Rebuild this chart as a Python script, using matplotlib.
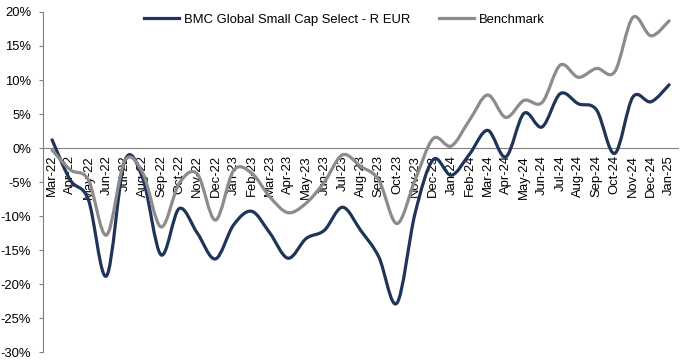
import numpy as np
import matplotlib
matplotlib.use('Agg')
import matplotlib.pyplot as plt
from matplotlib.path import Path
from matplotlib.patches import PathPatch
from matplotlib.lines import Line2D
from matplotlib.ticker import FuncFormatter, MultipleLocator

plt.rcParams['font.family'] = ['Liberation Sans', 'DejaVu Sans']

# 데이터 (그림에서 읽은 값, %)
months = ['Mar-22', 'Apr-22', 'May-22', 'Jun-22', 'Jul-22', 'Aug-22', 'Sep-22', 'Oct-22',
          'Nov-22', 'Dec-22', 'Jan-23', 'Feb-23', 'Mar-23', 'Apr-23', 'May-23', 'Jun-23',
          'Jul-23', 'Aug-23', 'Sep-23', 'Oct-23', 'Nov-23', 'Dec-23', 'Jan-24', 'Feb-24',
          'Mar-24', 'Apr-24', 'May-24', 'Jun-24', 'Jul-24', 'Aug-24', 'Sep-24', 'Oct-24',
          'Nov-24', 'Dec-24', 'Jan-25']
fund = [1.2, -4.7, -7.6, -18.8, -1.9, -4.5, -15.7, -8.9, -12.5, -16.3, -11.3, -9.3,
        -12.5, -16.2, -13.3, -12.1, -8.7, -12.1, -16.0, -22.8, -9.6, -1.7, -4.0, -0.9,
        2.6, -1.3, 5.1, 3.1, 8.0, 6.5, 5.6, -0.8, 7.5, 6.8, 9.3]
bench = [-0.3, -3.2, -4.7, -12.8, -1.9, -3.7, -11.6, -5.2, -3.8, -10.6, -3.3, -3.7,
         -7.2, -9.5, -8.1, -5.0, -1.0, -2.7, -4.7, -11.1, -4.7, 1.4, 0.3, 4.1,
         7.8, 4.5, 7.0, 6.7, 12.2, 10.4, 11.7, 11.2, 19.2, 16.5, 18.7]

fund_name = 'BMC Global Small Cap Select - R EUR'
bench_name = 'Benchmark'
navy = '#1f3459'
grey = '#8c8c8c'


# 엑셀식 부드러운 선 (베지어 곡선)
def smooth_path(x, y):
    pts = np.column_stack([x, y])
    verts = [pts[0]]
    codes = [Path.MOVETO]
    n = len(pts)
    for i in range(n - 1):
        p0 = pts[i - 1] if i > 0 else pts[i]
        p1 = pts[i]
        p2 = pts[i + 1]
        p3 = pts[i + 2] if i + 2 < n else pts[i + 1]
        c1 = p1 + (p2 - p0) / 6
        c2 = p2 - (p3 - p1) / 6
        verts += [c1, c2, p2]
        codes += [Path.CURVE4] * 3
    return Path(verts, codes)


fig = plt.figure(figsize=(6.83, 3.63), dpi=100)
ax = fig.add_axes([0.063, 0.030, 0.93, 0.937])

# 축 모양 (spine 위치를 먼저 지정해야 눈금 설정이 유지됨)
ax.spines['top'].set_visible(False)
ax.spines['right'].set_visible(False)
ax.spines['left'].set_color('#808080')
ax.spines['bottom'].set_position(('data', 0))
ax.spines['bottom'].set_color('#808080')
ax.set_axisbelow(True)

x = np.arange(len(months))
for vals, col in [(fund, navy), (bench, grey)]:
    ax.add_patch(PathPatch(smooth_path(x, vals), facecolor='none', edgecolor=col,
                           lw=2.3, capstyle='round', joinstyle='round', zorder=3))

ax.set_xlim(-0.5, len(months) - 0.5)
ax.set_ylim(-30, 20)
ax.yaxis.set_major_locator(MultipleLocator(5))
ax.yaxis.set_major_formatter(FuncFormatter(lambda v, p: '%d%%' % v))

ax.set_xticks(x)
ax.set_xticklabels(months)
ax.tick_params(axis='x', length=0, pad=5, labelsize=9.4, labelrotation=90)
ax.tick_params(axis='y', length=3, width=0.8, color='#808080', pad=5.5, labelsize=9.4)

handles = [Line2D([], [], color=navy, lw=2.3), Line2D([], [], color=grey, lw=2.3)]
ax.legend(handles, [fund_name, bench_name], loc='upper center', ncol=2, frameon=False,
          fontsize=9.4, bbox_to_anchor=(0.474, 1.03), handlelength=2.7, handletextpad=0.35,
          columnspacing=2.2)

fig.savefig('out.png', dpi=100)
